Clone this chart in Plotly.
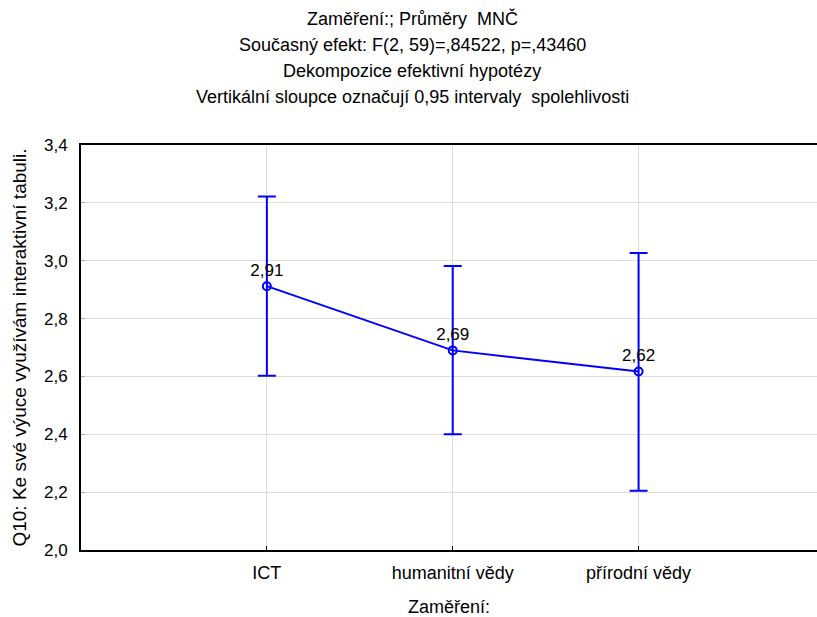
import plotly.graph_objects as go

categories = ["ICT", "humanitní vědy", "přírodní vědy"]
means = [2.912, 2.690, 2.617]
ci_low = [2.602, 2.400, 2.205]
ci_high = [3.222, 2.982, 3.027]

title_lines = [
    "Zaměření:; Průměry  MNČ",
    "Současný efekt: F(2, 59)=,84522, p=,43460",
    "Dekompozice efektivní hypotézy",
    "Vertikální sloupce označují 0,95 intervaly  spolehlivosti",
]
y_title = "Q10: Ke své výuce využívám interaktivní tabuli."
x_title = "Zaměření:"
y_ticks = [2.0, 2.2, 2.4, 2.6, 2.8, 3.0, 3.2, 3.4]

W, H = 817, 617
ML, MR, MT, MB = 81, 0, 145, 67
FONT = "Liberation Sans, Arial, sans-serif"
BLUE = "#0000FF"

err_plus = [h - m for h, m in zip(ci_high, means)]
err_minus = [m - l for m, l in zip(means, ci_low)]

fig = go.Figure()
fig.add_trace(go.Scatter(
    x=categories, y=means,
    mode="lines+markers+text",
    line=dict(color=BLUE, width=2),
    marker=dict(symbol="circle-open", size=8, color=BLUE, line=dict(width=2, color=BLUE)),
    error_y=dict(type="data", symmetric=False, array=err_plus, arrayminus=err_minus,
                 color=BLUE, thickness=2, width=9),
    text=[f"{m:.2f}".replace(".", ",") for m in means],
    textposition="top center",
    textfont=dict(family=FONT, size=17, color="black"),
    cliponaxis=False,
    showlegend=False,
))

plot_h = H - MT - MB
plot_w = W - ML - MR
title_px_y = [18, 45, 71, 97]
annotations = []
for line, py in zip(title_lines, title_px_y):
    annotations.append(dict(
        text=line, xref="paper", yref="paper",
        x=(412 - ML) / plot_w, y=(H - MB - py) / plot_h,
        xanchor="center", yanchor="middle", showarrow=False,
        font=dict(family=FONT, size=18, color="black"),
    ))

fig.update_layout(
    width=W, height=H,
    margin=dict(l=ML, r=MR, t=MT, b=MB, pad=0),
    paper_bgcolor="white", plot_bgcolor="white",
    font=dict(family=FONT, size=17, color="black"),
    separators=", ",
    annotations=annotations,
)
fig.update_xaxes(
    type="category", range=[-1, 2.96],
    showgrid=True, gridcolor="#dcdcdc", gridwidth=1,
    showline=True, linecolor="black", linewidth=2, mirror=True,
    ticks="inside", ticklen=4, tickcolor="black",
    tickfont=dict(family=FONT, size=18),
    ticklabelstandoff=5,
    title=dict(text=x_title, standoff=22, font=dict(family=FONT, size=18)),
    zeroline=False,
)
fig.update_yaxes(
    range=[2.0, 3.4], tickvals=y_ticks, tickformat=".1f",
    showgrid=True, gridcolor="#dcdcdc", gridwidth=1,
    showline=True, linecolor="black", linewidth=2, mirror=False,
    ticks="inside", ticklen=4, tickcolor="#aaaaaa",
    tickfont=dict(family=FONT, size=17),
    ticklabelstandoff=8,
    title=dict(text=y_title, standoff=12, font=dict(family=FONT, size=19)),
    zeroline=False,
)

fig.write_html("out.html")
